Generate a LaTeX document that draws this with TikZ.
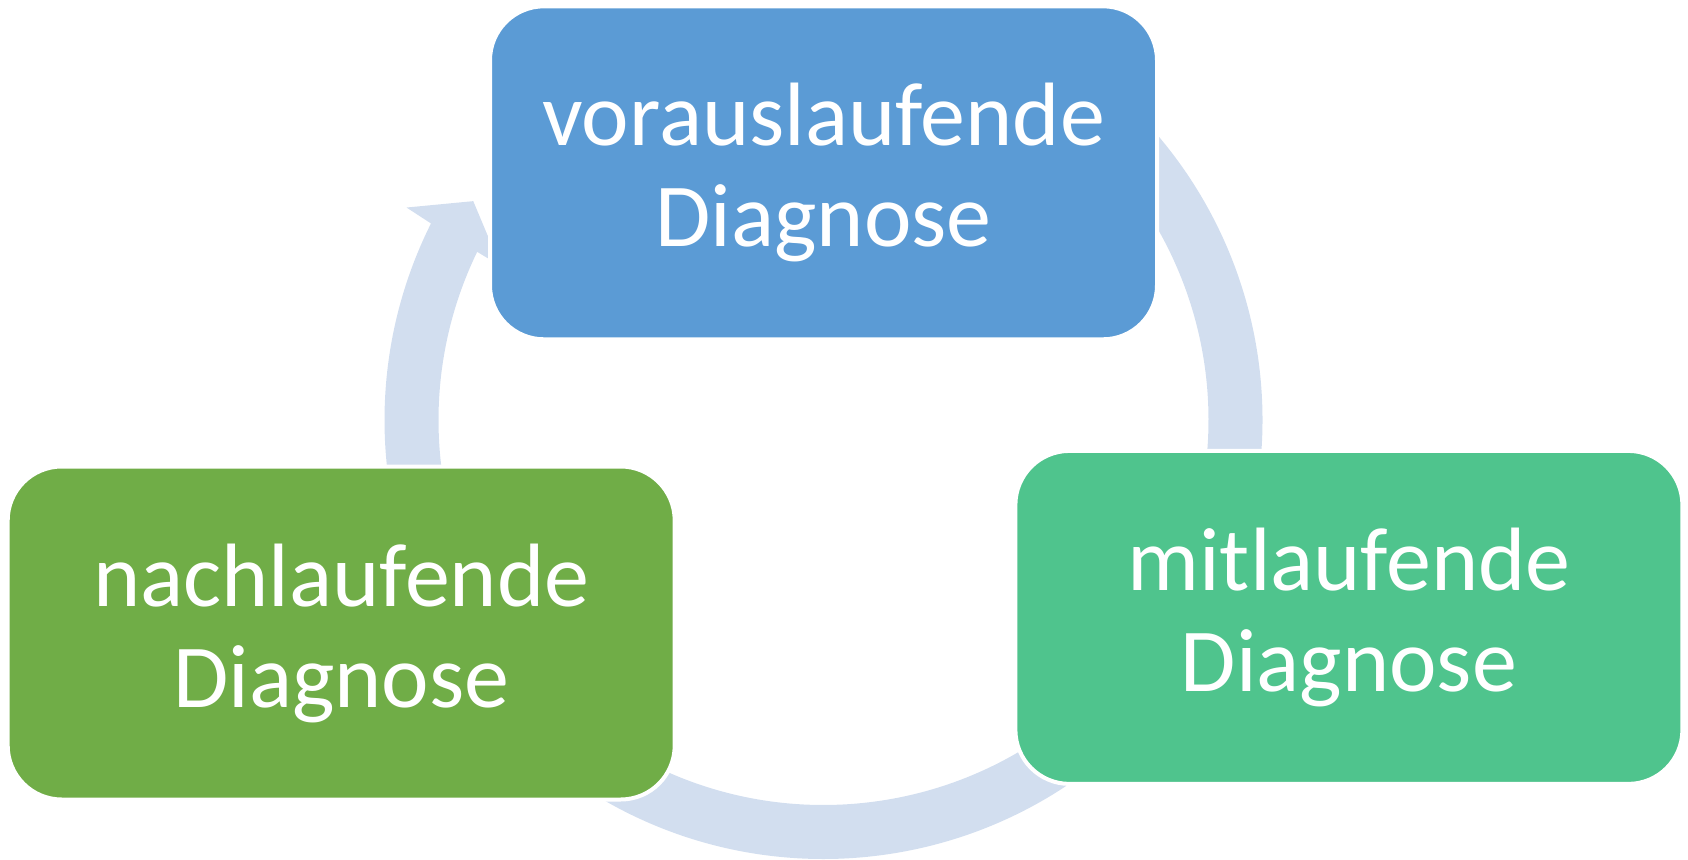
\documentclass[tikz,border=0pt]{standalone}
\usepackage{fontspec}
\setmainfont{Carlito}
\usepackage{xcolor}
\usepackage{tikz}
\definecolor{ringblue}{RGB}{210,222,239}
\definecolor{boxblue}{RGB}{91,155,213}
\definecolor{boxgreen}{RGB}{112,173,71}
\definecolor{boxmint}{RGB}{79,196,141}
\tikzset{
	phase/.style={shape=rectangle,rounded corners=27pt,draw=white,line width=2pt,
		minimum width=333.5pt,minimum height=166.5pt,inner sep=0pt,align=center,
		text=white,font=\fontsize{45}{50.5}\selectfont},
}

\begin{document}
\begin{tikzpicture}[x=0.5pt,y=0.5pt]
	\useasboundingbox (0,0) rectangle (1688,859);
	% ring of arrows behind the boxes
	\begin{scope}[shift={(823.5,439)}]
	\foreach \s/\e in {195/153.4,60/-8,-40/-128}{
		\fill[ringblue] (\s:439) arc[start angle=\s,end angle=\e,radius=439]
			-- ({\e-0.4}:468) -- ({\e-5.4}:413) -- ({\e+1.1}:358) -- ({\e+0.7}:385)
			arc[start angle={\e+0.7},end angle=\s,radius=385] -- cycle;
	}
	\end{scope}
	\node (voraus) at(823.5,686.2)[phase,fill=boxblue]{vorauslaufende\\Diagnose};
	\node (mit) at(1348.9,241.6)[phase,fill=boxmint]{mitlaufende\\Diagnose};
	\node (nach) at(341.2,226)[phase,fill=boxgreen]{nachlaufende\\Diagnose};
\end{tikzpicture}
\end{document}
